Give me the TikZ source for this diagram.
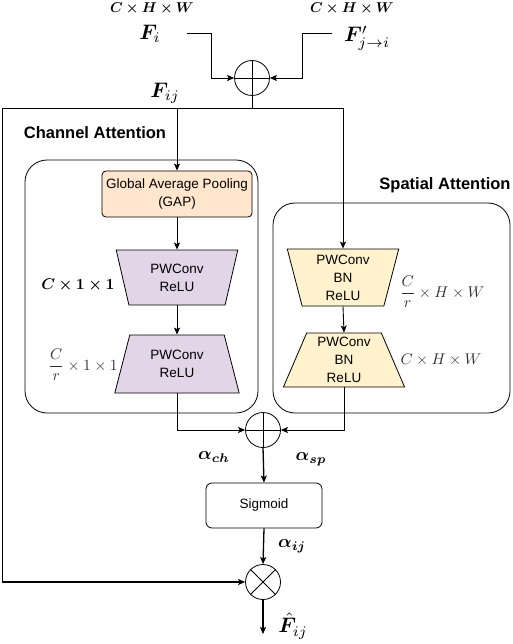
\documentclass[tikz,border=0pt]{standalone}
\usepackage{graphicx}
\usepackage{amsmath,bm}
\usepackage[no-math]{fontspec}
\newfontfamily\arialf{Liberation Sans}
\usetikzlibrary{shapes.geometric,arrows.meta}
\definecolor{peach}{HTML}{FFE6CC}
\definecolor{lav}{HTML}{E1D5E7}
\definecolor{cream}{HTML}{FFF2CC}
\definecolor{lbl}{HTML}{333333}
\newcommand{\topm}[1]{\scalebox{1.42}{$#1$}}
\newcommand{\smm}[1]{\scalebox{1.55}{$#1$}}
\newcommand{\bgm}[1]{\scalebox{2.1}{$#1$}}
\newcommand{\alm}[1]{\scalebox{1.8}{$#1$}}
\begin{document}
\begin{tikzpicture}[x=1pt,y=-1pt,
  txt/.style={font=\arialf\fontsize{13.5}{18}\selectfont, align=center},
  ttl/.style={font=\arialf\bfseries\fontsize{16.5}{18}\selectfont},
  ln/.style={line width=0.9pt},
  thick ln/.style={line width=1.3pt},
  arr/.style={-{Stealth[length=7pt,width=6pt,inset=1.5pt]}},
  grp/.style={draw, line width=0.8pt, rounded corners=22pt},
  trap/.style={trapezium, draw, line width=0.8pt, trapezium stretches=true, inner sep=0pt, txt},
  op/.style={circle, draw, line width=0.8pt, minimum size=35pt, inner sep=0pt},
  ml/.style={inner sep=1pt}]
\useasboundingbox (0,0) rectangle (512,644);

% group boxes
\node[grp, minimum width=233pt, minimum height=253pt] (chbox) at (141.5,286.5) {};
\node[grp, minimum width=237pt, minimum height=210pt] (spbox) at (391.5,308) {};
\node[ttl] (chttl) at (95,133) {Channel Attention};
\node[ttl] (spttl) at (445,185) {Spatial Attention};

% top inputs
\node[op] (plus1) at (252,78) {};
\draw[ln] (plus1.north) -- (plus1.south) (plus1.west) -- (plus1.east);
\node[ml] (dimi) at (152,9) {\topm{\bm{C\times H\times W}}};
\node[ml] (dimj) at (352,9) {\topm{\bm{C\times H\times W}}};
\node[ml] (fi) at (150,34) {\bgm{\bm{F}_{i}}};
\node[ml] (fj) at (367,38) {\bgm{\bm{F}'_{j\rightarrow i}}};
\coordinate (fis) at (187,33);
\coordinate (fjs) at (332,33);
\draw[ln,arr] (fis) -- (211,33) -- (211,78) -- (plus1.west);
\draw[ln,arr] (fjs) -- (302,33) -- (302,78) -- (plus1.east);
\node[ml] (fij) at (165,93) {\bgm{\bm{F}_{ij}}};
\coordinate (jn) at (252,108);
\coordinate (lc) at (2,582);

% channel branch
\node[txt, draw, line width=0.8pt, fill=peach, rounded corners=4pt, minimum width=150pt, minimum height=46pt, inner sep=0pt] (gap) at (177,194) {Global Average Pooling\\(GAP)};
\node[trap, fill=lav, shape border rotate=180, trapezium angle=75.7, minimum width=122pt, minimum height=55pt] (ch1) at (177,277.5) {PWConv\\ReLU};
\node[trap, fill=lav, trapezium angle=73, minimum width=125pt, minimum height=58pt] (ch2) at (177,364) {PWConv\\ReLU};
\node[ml] (chl1) at (78,285) {\smm{\bm{C\times 1\times 1}}};
\node[ml, text=lbl] (chl2) at (83,365) {\smm{\dfrac{C}{r}\times 1\times 1}};

% spatial branch
\node[trap, fill=cream, shape border rotate=180, trapezium angle=78, minimum width=112pt, minimum height=57pt] (sp1) at (343,277.5) {PWConv\\BN\\ReLU};
\node[trap, fill=cream, trapezium angle=70, minimum width=122pt, minimum height=54pt] (sp2) at (344,360) {PWConv\\BN\\ReLU};
\node[ml, text=lbl] (spl1) at (442,292) {\smm{\dfrac{C}{r}\times H\times W}};
\node[ml, text=lbl] (spl2) at (441,360) {\smm{C\times H\times W}};

% fusion
\node[op] (plus2) at (263,430) {};
\draw[ln] (plus2.north) -- (plus2.south) (plus2.west) -- (plus2.east);
\node[txt, draw, line width=0.8pt, rounded corners=6pt, minimum width=116pt, minimum height=45pt] (sig) at (264,505.5) {Sigmoid};
\node[op] (times) at (263,582) {};
\draw[ln] (times.north west) -- (times.south east) (times.north east) -- (times.south west);
\coordinate (out) at (263,634);
\node[ml] (ach) at (214,457) {\alm{\bm{\alpha_{ch}}}};
\node[ml] (asp) at (311,459) {\alm{\bm{\alpha_{sp}}}};
\node[ml] (aij) at (292,546) {\alm{\bm{\alpha_{ij}}}};
\node[ml] (fhat) at (293,626) {\bgm{\hat{\bm{F}}_{ij}}};

% connectors
\draw[ln] (plus1.south) -- (jn);
\draw[ln,arr] (jn) -| (gap.north);
\draw[ln,arr] (jn) -| (sp1.90);
\draw[ln,arr] (gap.south) -- (ch1.90);
\draw[ln,arr] (ch1.270) -- (ch2.90);
\draw[ln,arr] (sp1.270) -- (sp2.90);
\draw[ln,arr] (ch2.270) |- (plus2.west);
\draw[ln,arr] (sp2.270) |- (plus2.east);
\draw[thick ln,arr] (plus2.south) -- (sig.north);
\draw[thick ln,arr] (sig.south) -- (times.north);
\draw[ln] (jn) -| (lc);
\draw[thick ln,arr] (lc) -- (times.west);
\draw[thick ln,arr] (times.south) -- (out);
\end{tikzpicture}
\end{document}
